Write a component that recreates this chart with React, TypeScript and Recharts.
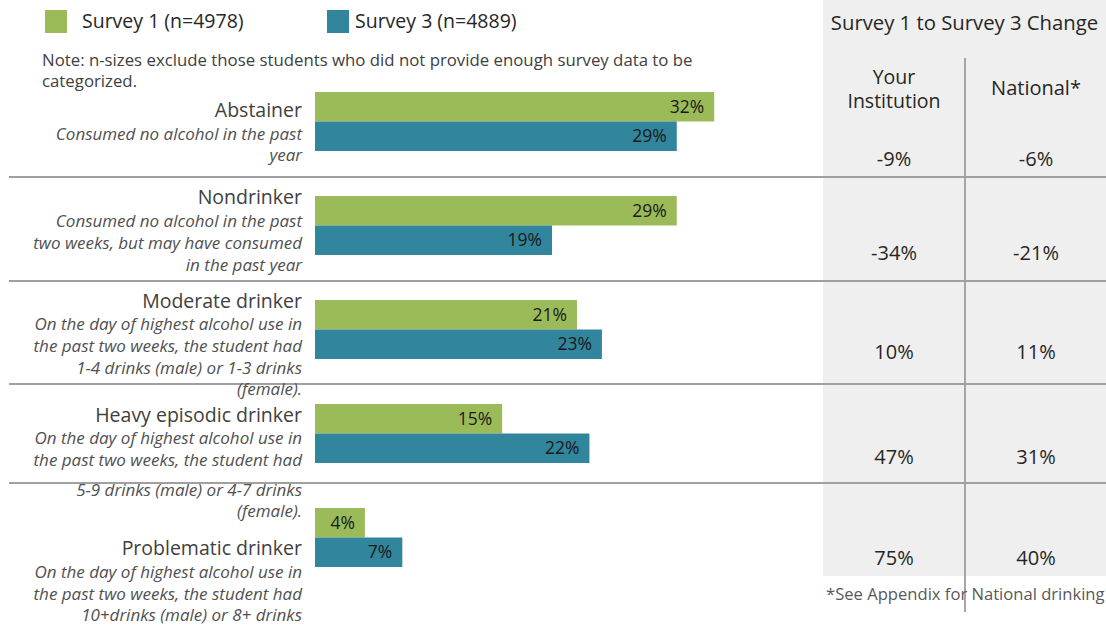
import { BarChart, Bar, XAxis, YAxis, LabelList } from "recharts";

const categories = [
  "Abstainer",
  "Nondrinker",
  "Moderate drinker",
  "Heavy episodic drinker",
  "Problematic drinker",
];

const descriptions = [
  ["Consumed no alcohol in the past", "year"],
  ["Consumed no alcohol in the past", "two weeks, but may have consumed", "in the past year"],
  [
    "On the day of highest alcohol use in",
    "the past two weeks, the student had",
    "1-4 drinks (male) or 1-3 drinks",
    "(female).",
  ],
  [
    "On the day of highest alcohol use in",
    "the past two weeks, the student had",
    "5-9 drinks (male) or 4-7 drinks",
    "(female).",
  ],
  [
    "On the day of highest alcohol use in",
    "the past two weeks, the student had",
    "10+drinks (male) or 8+ drinks",
  ],
];

const survey1 = [32, 29, 21, 15, 4];
const survey3 = [29, 19, 23, 22, 7];
const changeInstitution = [-9, -34, 10, 47, 75];
const changeNational = [-6, -21, 11, 31, 40];

const seriesNames = ["Survey 1 (n=4978)", "Survey 3 (n=4889)"];

const GREEN = "#9bbb59";
const TEAL = "#31859c";
const FONT = "'Open Sans', Lato, sans-serif";

// hand-tuned text placement (px from each category's band centre)
const LEFT_LAYOUT = [
  { title: -12, lines: [12, 33] },
  { title: -29, lines: [-5, 17, 39] },
  { title: -29, lines: [-6, 16, 38, 59] },
  { title: -19, lines: [4, 26, 56, 77] },
  { title: 10, lines: [34, 56, 77] },
];
const RIGHT_OFFSETS = [37, 27, 22, 23, 20];

const data = categories.map((name, i) => ({
  name,
  s1: survey1[i],
  s3: survey3[i],
  inst: changeInstitution[i],
  nat: changeNational[i],
}));

function LeftTick(props: any) {
  const { x, y, index } = props;
  const lay = LEFT_LAYOUT[index];
  return (
    <g fontFamily={FONT}>
      <text
        x={x}
        y={y + lay.title}
        textAnchor="end"
        dominantBaseline="central"
        fontSize={19.5}
        fill="#404040"
      >
        {categories[index]}
      </text>
      {descriptions[index].map((line, j) => (
        <text
          key={j}
          x={x}
          y={y + lay.lines[j]}
          textAnchor="end"
          dominantBaseline="central"
          fontSize={17}
          fontStyle="italic"
          fill="#505050"
        >
          {line}
        </text>
      ))}
    </g>
  );
}

function RightTick(props: any) {
  const { x, y, index } = props;
  const ty = y + RIGHT_OFFSETS[index];
  return (
    <g fontFamily={FONT} fontSize={20} fill="#262626">
      <text x={x + 80} y={ty} textAnchor="middle" dominantBaseline="central">
        {`${changeInstitution[index]}%`}
      </text>
      <text x={x + 222} y={ty} textAnchor="middle" dominantBaseline="central">
        {`${changeNational[index]}%`}
      </text>
    </g>
  );
}

const pct = (v: any) => `${v}%`;

const SEPARATORS = [177, 281, 384, 483];

export default function App() {
  return (
    <div
      style={{
        position: "absolute",
        left: 0,
        top: 0,
        width: 1106,
        height: 625,
        overflow: "hidden",
        background: "#fff",
        fontFamily: FONT,
      }}
    >
      {/* change panel background */}
      <div
        style={{
          position: "absolute",
          left: 823,
          top: 0,
          width: 283,
          height: 576,
          background: "#efefef",
        }}
      />
      <div
        style={{
          position: "absolute",
          left: 964,
          top: 58,
          width: 2,
          height: 554,
          background: "#a6a6a6",
        }}
      />
      {SEPARATORS.map((y) => (
        <div
          key={y}
          style={{
            position: "absolute",
            left: 9,
            top: y - 1,
            width: 1097,
            height: 2,
            background: "#a0a0a0",
          }}
        />
      ))}

      {/* legend */}
      {[GREEN, TEAL].map((c, i) => (
        <div key={c}>
          <div
            style={{
              position: "absolute",
              left: i === 0 ? 45 : 327,
              top: 10,
              width: 22,
              height: 23,
              background: c,
            }}
          />
          <div
            style={{
              position: "absolute",
              left: i === 0 ? 82 : 355,
              top: 7,
              fontSize: 19.5,
              lineHeight: "28px",
              color: "#262626",
              whiteSpace: "nowrap",
            }}
          >
            {seriesNames[i]}
          </div>
        </div>
      ))}

      <div
        style={{
          position: "absolute",
          left: 42,
          top: 49,
          fontSize: 16.8,
          lineHeight: "21px",
          color: "#404040",
          whiteSpace: "nowrap",
        }}
      >
        Note: n-sizes exclude those students who did not provide enough survey data to be
        <br />
        categorized.
      </div>

      {/* panel headings */}
      <div
        style={{
          position: "absolute",
          left: 823,
          top: 8,
          width: 283,
          textAlign: "center",
          fontSize: 20.3,
          lineHeight: "28px",
          color: "#262626",
          whiteSpace: "nowrap",
        }}
      >
        Survey 1 to Survey 3 Change
      </div>
      <div
        style={{
          position: "absolute",
          left: 834,
          top: 65,
          width: 120,
          textAlign: "center",
          fontSize: 19.5,
          lineHeight: "24px",
          color: "#262626",
        }}
      >
        Your
        <br />
        Institution
      </div>
      <div
        style={{
          position: "absolute",
          left: 976,
          top: 75,
          width: 120,
          textAlign: "center",
          fontSize: 20,
          lineHeight: "26px",
          color: "#262626",
        }}
      >
        National*
      </div>
      <div
        style={{
          position: "absolute",
          left: 826,
          top: 582,
          fontSize: 16.6,
          lineHeight: "24px",
          color: "#595959",
          whiteSpace: "nowrap",
        }}
      >
        *See Appendix for National drinking
      </div>

      <div style={{ position: "absolute", left: 0, top: 0 }}>
        <BarChart
          width={1106}
          height={625}
          data={data}
          layout="vertical"
          margin={{ top: 69, right: 0, bottom: 36, left: 0 }}
          barGap={0}
          barCategoryGap={0}
        >
          <XAxis type="number" domain={[0, 40]} hide />
          <YAxis
            yAxisId="left"
            type="category"
            dataKey="name"
            width={315}
            axisLine={false}
            tickLine={false}
            tickSize={0}
            tickMargin={13}
            interval={0}
            tick={<LeftTick />}
          />
          <YAxis
            yAxisId="right"
            orientation="right"
            type="category"
            dataKey="name"
            width={292}
            axisLine={false}
            tickLine={false}
            tickSize={0}
            tickMargin={0}
            interval={0}
            tick={<RightTick />}
          />
          <Bar
            yAxisId="left"
            dataKey="s1"
            fill={GREEN}
            barSize={29.5}
            isAnimationActive={false}
          >
            <LabelList
              dataKey="s1"
              position="insideRight"
              offset={10}
              formatter={pct}
              fill="#1a1a1a"
              fontSize={17.5}
              fontFamily={FONT}
            />
          </Bar>
          <Bar
            yAxisId="left"
            dataKey="s3"
            fill={TEAL}
            barSize={29.5}
            isAnimationActive={false}
          >
            <LabelList
              dataKey="s3"
              position="insideRight"
              offset={10}
              formatter={pct}
              fill="#1a1a1a"
              fontSize={17.5}
              fontFamily={FONT}
            />
          </Bar>
        </BarChart>
      </div>
    </div>
  );
}
